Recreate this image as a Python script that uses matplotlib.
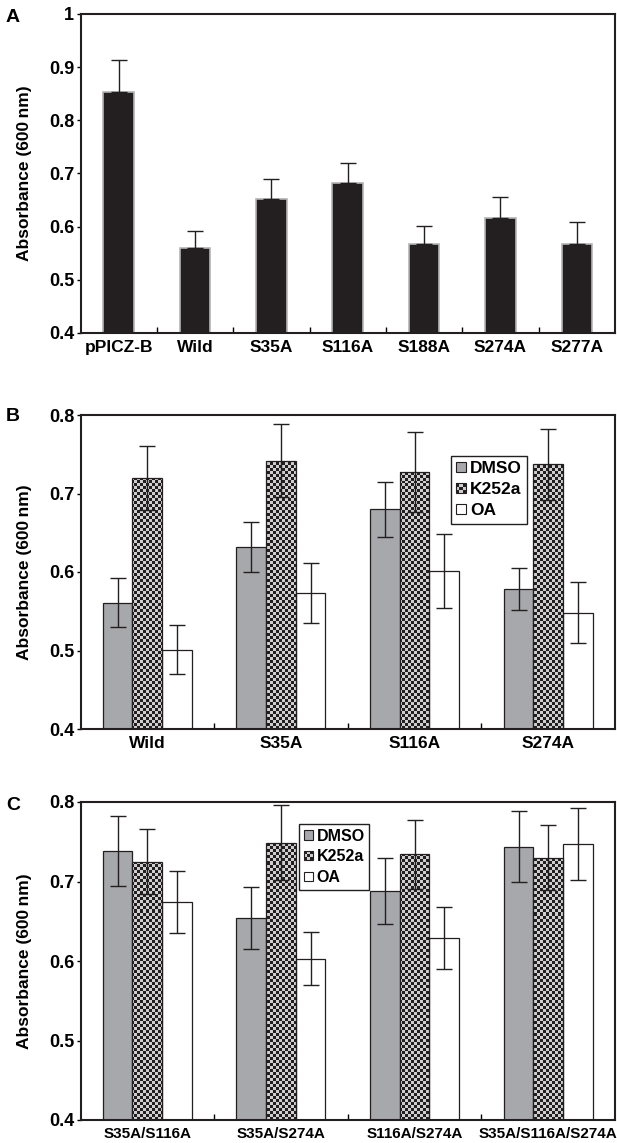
import matplotlib
matplotlib.use('Agg')
import matplotlib.pyplot as plt
import numpy as np
from matplotlib.patches import Rectangle
from matplotlib.legend_handler import HandlerBase

plt.rcParams['font.family'] = ['Liberation Sans', 'DejaVu Sans']
plt.rcParams['font.weight'] = 'bold'

# Panel A data (mean, upper error)
labels_a = ['pPICZ-B', 'Wild', 'S35A', 'S116A', 'S188A', 'S274A', 'S277A']
mean_a = [0.853, 0.559, 0.652, 0.683, 0.567, 0.617, 0.567]
err_a = [0.061, 0.032, 0.037, 0.037, 0.034, 0.039, 0.042]

# Panel B data
groups_b = ['Wild', 'S35A', 'S116A', 'S274A']
dmso_b = [0.561, 0.632, 0.680, 0.578]
dmso_b_err = [0.031, 0.032, 0.035, 0.027]
k252a_b = [0.720, 0.742, 0.727, 0.737]
k252a_b_err = [0.041, 0.047, 0.051, 0.045]
oa_b = [0.501, 0.573, 0.601, 0.548]
oa_b_err = [0.031, 0.038, 0.047, 0.039]

# Panel C data
groups_c = ['S35A/S116A', 'S35A/S274A', 'S116A/S274A', 'S35A/S116A/S274A']
dmso_c = [0.738, 0.654, 0.688, 0.744]
dmso_c_err = [0.044, 0.039, 0.041, 0.045]
k252a_c = [0.725, 0.749, 0.734, 0.730]
k252a_c_err = [0.041, 0.047, 0.043, 0.041]
oa_c = [0.674, 0.603, 0.629, 0.747]
oa_c_err = [0.039, 0.033, 0.039, 0.045]

treatments = ['DMSO', 'K252a', 'OA']

GRAY = '#a7a8ab'
DARK = '#231f20'
LIGHT = '#cfcfcf'

W, H = 617, 1143
fig = plt.figure(figsize=(W / 100, H / 100), dpi=100)


def add_axes(top, bottom, left=80.5, right=615):
    return fig.add_axes([left / W, 1 - bottom / H, (right - left) / W, (bottom - top) / H])


def style_axes(ax, n, labels, yticks, yticklabels, xfs):
    ax.set_xlim(-0.5, n - 0.5)
    ax.set_xticks(range(n))
    ax.set_xticklabels(labels, fontsize=xfs, fontweight='bold')
    ax.set_xticks(np.arange(0.5, n - 0.5, 1), minor=True)
    ax.tick_params(axis='x', which='major', length=0, pad=5)
    ax.tick_params(axis='x', which='minor', direction='in', length=4, width=1)
    ax.set_ylim(yticks[0], yticks[-1])
    ax.set_yticks(yticks)
    ax.set_yticklabels(yticklabels, fontsize=13, fontweight='bold')
    ax.tick_params(axis='y', direction='out', length=3, width=1, pad=1.5)
    for s in ax.spines.values():
        s.set_linewidth(1.5)
        s.set_color('#231f20')


def panel_letter(ax, letter, ytop):
    fig.text(13 / W, 1 - ytop / H, letter, fontsize=14, fontweight='bold',
             ha='center', va='center')
    pos = ax.get_position()
    fig.text(24 / W, pos.y0 + pos.height / 2, 'Absorbance (600\u2009nm)',
             rotation=90, ha='center', va='center', fontsize=12.5, fontweight='bold')


def checker_bars(ax, bars, cell=3.0):
    x0, x1 = ax.get_xlim()
    y0, y1 = ax.get_ylim()
    bb = ax.get_position()
    nx = int(round(bb.width * W / cell))
    ny = int(round(bb.height * H / cell))
    board = np.indices((ny, nx)).sum(axis=0) % 2
    cmap = matplotlib.colors.ListedColormap([LIGHT, DARK])
    for b in bars:
        im = ax.imshow(board, extent=(x0, x1, y0, y1), aspect='auto', cmap=cmap,
                       interpolation='nearest', zorder=1.2, origin='lower')
        im.set_clip_path(b)
    ax.set_xlim(x0, x1)
    ax.set_ylim(y0, y1)


class CheckerHandler(HandlerBase):
    def create_artists(self, legend, orig_handle, xdescent, ydescent,
                       width, height, fontsize, trans):
        s = min(width, height)
        x0 = -xdescent + (width - s) / 2
        y0 = -ydescent + (height - s) / 2
        n = 3
        c = s / n
        arts = [Rectangle((x0, y0), s, s, facecolor=LIGHT, edgecolor='none', transform=trans)]
        for i in range(n):
            for j in range(n):
                if (i + j) % 2 == 0:
                    arts.append(Rectangle((x0 + i * c, y0 + j * c), c, c,
                                          facecolor=DARK, edgecolor='none', transform=trans))
        arts.append(Rectangle((x0, y0), s, s, fill=False, edgecolor=DARK,
                              linewidth=0.8, transform=trans))
        return arts


def grouped(ax, n, dmso, dmso_err, k252a, k252a_err, oa, oa_err, labels, xfs,
            leg_xy, leg_fs):
    x = np.arange(n)
    w = 0.222
    style_axes(ax, n, labels, [0.4, 0.5, 0.6, 0.7, 0.8],
               ['0.4', '0.5', '0.6', '0.7', '0.8'], xfs)
    ax.bar(x - w, dmso, w, color=GRAY, edgecolor=DARK, linewidth=0.9, zorder=1)
    b2 = ax.bar(x, k252a, w, color=LIGHT, edgecolor='none', zorder=1)
    checker_bars(ax, b2)
    ax.bar(x, k252a, w, fill=False, edgecolor=DARK, linewidth=0.9, zorder=1.5)
    ax.bar(x + w, oa, w, color='white', edgecolor=DARK, linewidth=0.9, zorder=1)
    for xs, m, e in [(x - w, dmso, dmso_err), (x, k252a, k252a_err), (x + w, oa, oa_err)]:
        ax.errorbar(xs, m, yerr=e, fmt='none', ecolor=DARK, elinewidth=1,
                    capsize=5.5, capthick=1, zorder=3)
    h1 = Rectangle((0, 0), 1, 1, facecolor=GRAY, edgecolor=DARK, linewidth=0.8)
    h2 = Rectangle((0, 0), 1, 1)
    h3 = Rectangle((0, 0), 1, 1, facecolor='white', edgecolor=DARK, linewidth=0.8)
    leg = ax.legend([h1, h2, h3], treatments, loc='upper left',
                    bbox_to_anchor=(leg_xy[0] / W, 1 - leg_xy[1] / H),
                    bbox_transform=fig.transFigure, borderaxespad=0,
                    handler_map={h2: CheckerHandler()},
                    prop={'size': leg_fs, 'weight': 'bold'},
                    handlelength=0.55, handleheight=0.55, handletextpad=0.25,
                    labelspacing=0.35, borderpad=0.3, fancybox=False, framealpha=1)
    leg.get_frame().set_edgecolor(DARK)
    leg.get_frame().set_linewidth(1)
    leg.set_zorder(5)


# Panel A
ax_a = add_axes(14, 333)
n_a = len(labels_a)
style_axes(ax_a, n_a, labels_a, [0.4, 0.5, 0.6, 0.7, 0.8, 0.9, 1.0],
           ['0.4', '0.5', '0.6', '0.7', '0.8', '0.9', '1'], 12.5)
xa = np.arange(n_a)
ax_a.bar(xa, mean_a, 0.4, color=DARK, edgecolor='#b4b4b4', linewidth=1.2, zorder=1)
ax_a.errorbar(xa, mean_a, yerr=[np.zeros(n_a), err_a], fmt='none', ecolor=DARK,
              elinewidth=1, capsize=6, capthick=1, zorder=3)
panel_letter(ax_a, 'A', 18)

# Panel B
ax_b = add_axes(415, 729)
grouped(ax_b, len(groups_b), dmso_b, dmso_b_err, k252a_b, k252a_b_err, oa_b, oa_b_err,
        groups_b, 12.5, (451, 456), 12.5)
panel_letter(ax_b, 'B', 416)

# Panel C
ax_c = add_axes(802, 1120)
grouped(ax_c, len(groups_c), dmso_c, dmso_c_err, k252a_c, k252a_c_err, oa_c, oa_c_err,
        groups_c, 11, (299, 824), 11.5)
panel_letter(ax_c, 'C', 806)

fig.savefig('out.png', dpi=100)
